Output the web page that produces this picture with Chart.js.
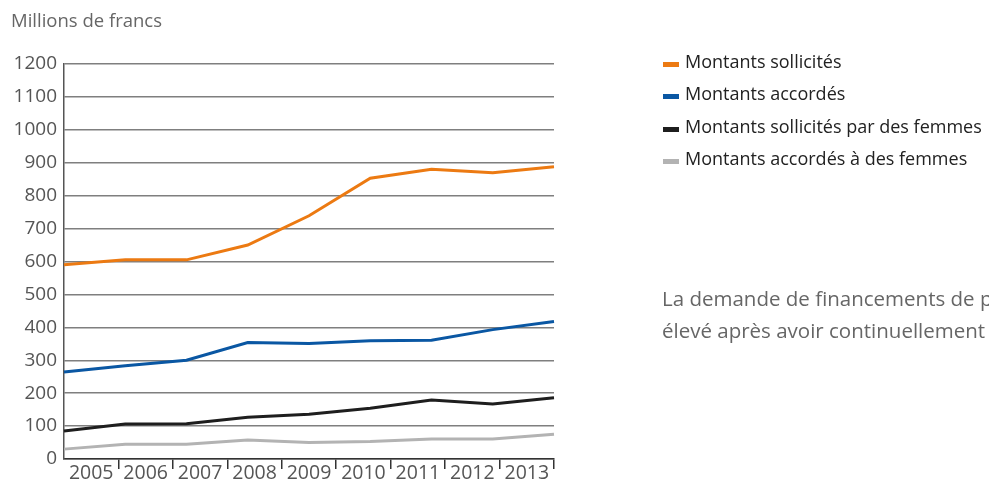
<!DOCTYPE html>
<html lang="fr">
<head>
    <meta charset="UTF-8">
    <title>Montants sollicités et accordés</title>
    <script src="https://cdn.jsdelivr.net/npm/chart.js"></script>
    <style>
        body {
            margin: 0;
            background: #fff;
            font-family: "Open Sans", sans-serif;
            overflow: hidden;
        }
        #wrap {
            position: relative;
            width: 989px;
            height: 490px;
            overflow: hidden;
        }
        #unit {
            position: absolute;
            left: 11px;
            top: 7px;
            font-size: 18.5px;
            color: #666;
        }
        #legend {
            position: absolute;
            left: 663px;
            top: 48px;
            font-size: 18px;
            color: #222;
        }
        .row {
            height: 32.3px;
            line-height: 26px;
            white-space: nowrap;
        }
        .swatch {
            display: inline-block;
            width: 16px;
            height: 5px;
            margin-right: 6px;
            vertical-align: 1px;
        }
        #note {
            position: absolute;
            left: 662px;
            top: 283px;
            font-size: 20.5px;
            line-height: 31.5px;
            color: #666;
            white-space: nowrap;
        }
    </style>
</head>
<body>
<div id="wrap">
    <canvas id="myChart" width="989" height="490"></canvas>
    <div id="unit">Millions de francs</div>
    <div id="legend"></div>
    <div id="note">La demande de financements de projets<br>élevé après avoir continuellement</div>
</div>

<script>
    // Données
    const annees = ['2005', '2006', '2007', '2008', '2009', '2010', '2011', '2012', '2013'];
    const sollicites = [590, 605, 605, 650, 739, 853, 880, 870, 888];
    const accordes = [264, 283, 300, 354, 351, 359, 361, 393, 418];
    const sollicitesFemmes = [85, 106, 107, 127, 136, 154, 179, 167, 186];
    const accordesFemmes = [30, 45, 45, 58, 50, 53, 61, 61, 75];
    const graduations = [0, 100, 200, 300, 400, 500, 600, 700, 800, 900, 1000, 1100, 1200];

    const series = [
        { label: 'Montants sollicités', data: sollicites, color: '#ec7a12' },
        { label: 'Montants accordés', data: accordes, color: '#0a57a3' },
        { label: 'Montants sollicités par des femmes', data: sollicitesFemmes, color: '#1e1e1e' },
        { label: 'Montants accordés à des femmes', data: accordesFemmes, color: '#b3b3b3' }
    ];

    // Légende en HTML
    const legend = document.getElementById('legend');
    series.forEach(function (s) {
        const row = document.createElement('div');
        row.className = 'row';
        row.innerHTML = '<span class="swatch" style="background:' + s.color + '"></span>' + s.label;
        legend.appendChild(row);
    });

    const ctx = document.getElementById('myChart').getContext('2d');
    const myChart = new Chart(ctx, {
        type: 'line',
        data: {
            labels: annees,
            datasets: series.map(function (s) {
                return {
                    label: s.label,
                    data: s.data,
                    borderColor: s.color,
                    backgroundColor: s.color,
                    borderWidth: 3,
                    pointRadius: 0,
                    tension: 0,
                    xAxisID: 'x',
                    yAxisID: 'y'
                };
            })
        },
        options: {
            responsive: false,
            animation: false,
            layout: {
                padding: { top: 64, right: 435, bottom: 0, left: 0 }
            },
            plugins: {
                legend: { display: false },
                tooltip: { enabled: false }
            },
            scales: {
                x: {
                    type: 'category',
                    display: false,
                    offset: false
                },
                x2: {
                    type: 'category',
                    labels: annees,
                    position: 'bottom',
                    offset: true,
                    afterFit: function (scale) { scale.height = 31; },
                    grid: {
                        offset: true,
                        drawOnChartArea: false,
                        drawTicks: true,
                        tickLength: 10,
                        lineWidth: 1.5,
                        color: function (c) { return c.index === 0 ? 'rgba(0,0,0,0)' : '#333'; }
                    },
                    border: { color: '#333', width: 1.5 },
                    ticks: {
                        color: '#555',
                        padding: -7,
                        maxRotation: 0,
                        autoSkip: false,
                        font: { family: 'Open Sans', size: 19.5 }
                    }
                },
                y: {
                    min: 0,
                    max: 1200,
                    afterFit: function (scale) { scale.width = 64; },
                    afterBuildTicks: function (scale) {
                        scale.ticks = graduations.map(function (v) { return { value: v }; });
                    },
                    grid: {
                        drawTicks: false,
                        lineWidth: 1.5,
                        color: '#7f7f7f'
                    },
                    border: { color: '#555', width: 1.5 },
                    ticks: {
                        color: '#555',
                        padding: 7,
                        callback: function (v) { return String(v); },
                        font: { family: 'Open Sans', size: 19 }
                    }
                }
            }
        }
    });
</script>
</body>
</html>
